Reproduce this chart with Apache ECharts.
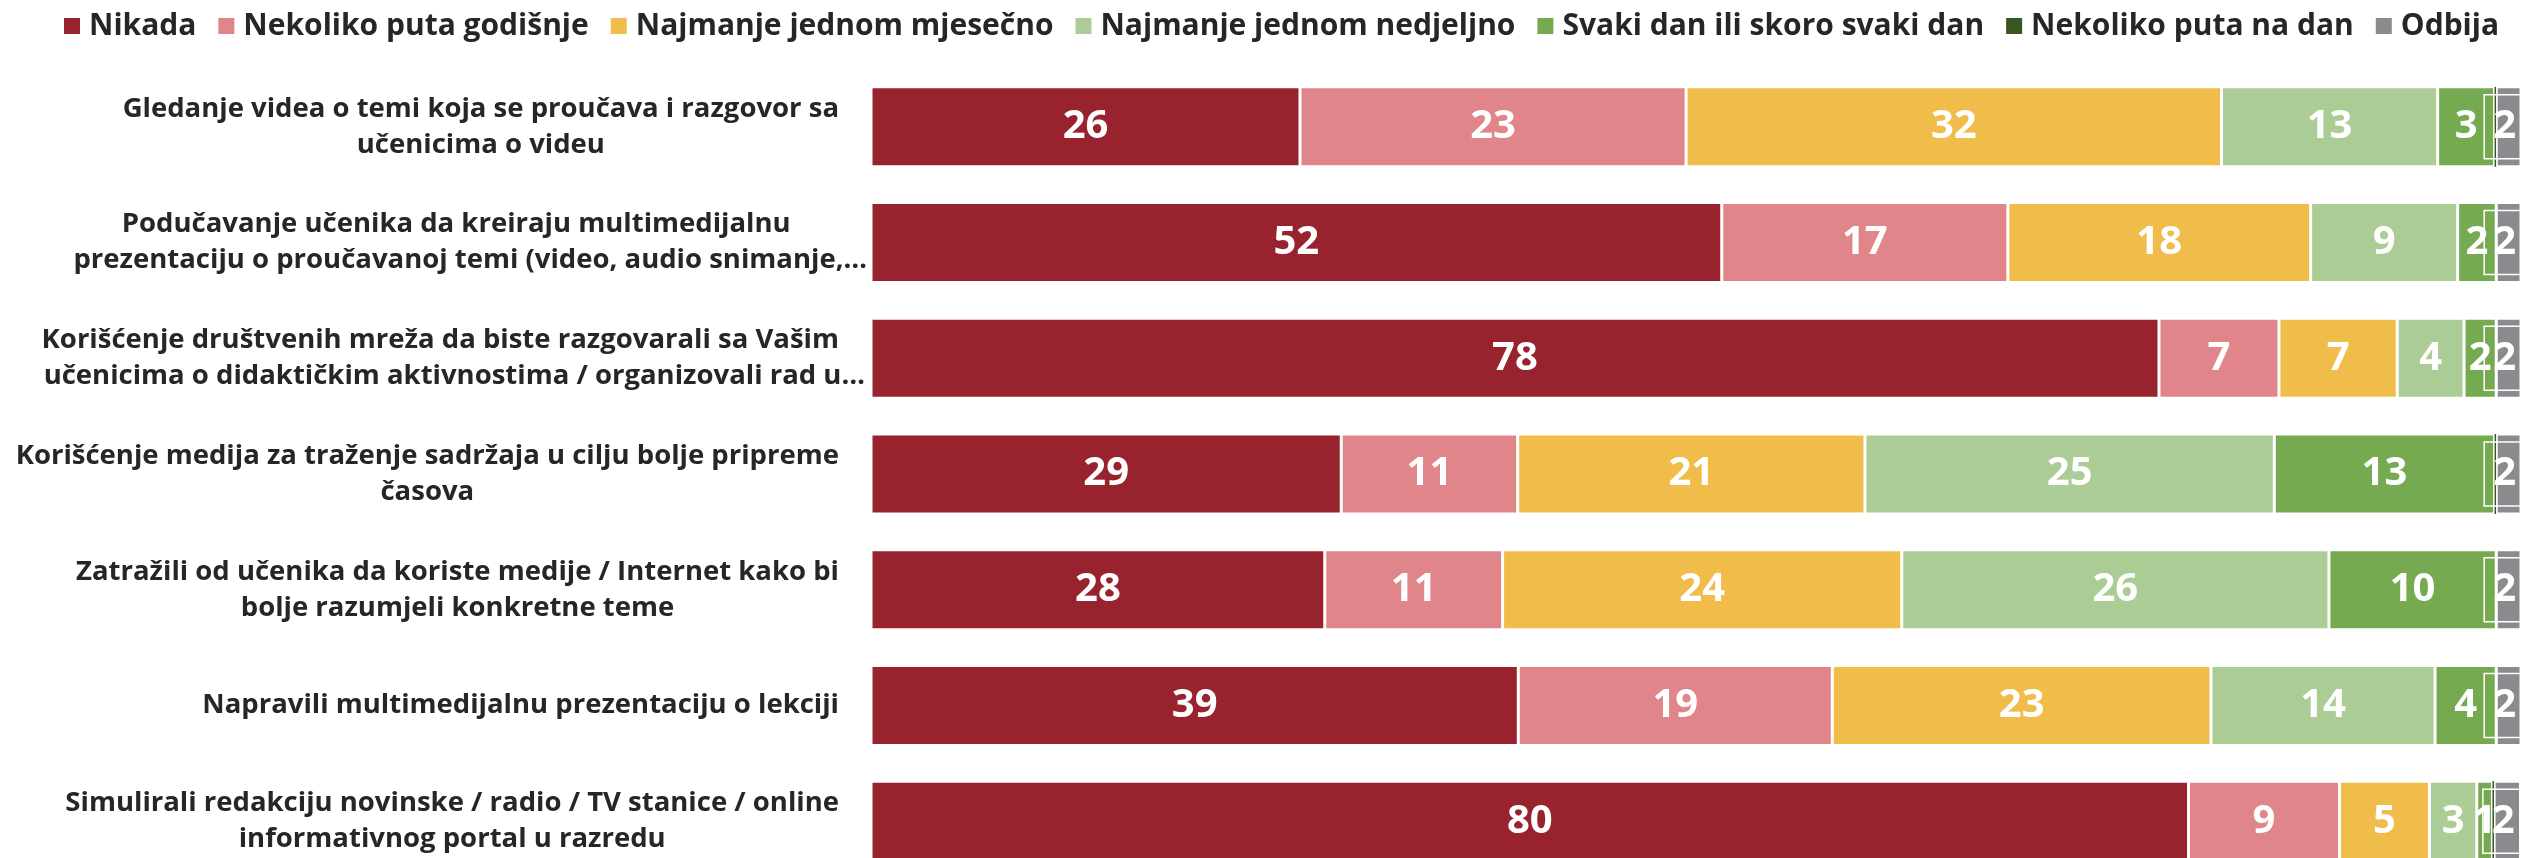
<!DOCTYPE html>
<html>
<head>
<meta charset="utf-8">
<script src="https://cdn.jsdelivr.net/npm/echarts@6/dist/echarts.min.js"></script>
<style>
  html, body { margin: 0; padding: 0; background: #ffffff; }
  #chart { width: 2521px; height: 858px; }
</style>
</head>
<body>
<div id="chart"></div>
<script>
// ---- Data (percentages) ----
const categories = [
  "Gledanje videa o temi koja se proučava i razgovor sa\nučenicima o videu",
  "Podučavanje učenika da kreiraju multimedijalnu\nprezentaciju o proučavanoj temi (video, audio snimanje,…",
  "Korišćenje društvenih mreža da biste razgovarali sa Vašim\nučenicima o didaktičkim aktivnostima / organizovali rad u…",
  "Korišćenje medija za traženje sadržaja u cilju bolje pripreme\nčasova",
  "Zatražili od učenika da koriste medije / Internet kako bi\nbolje razumjeli konkretne teme",
  "Napravili multimedijalnu prezentaciju o lekciji",
  "Simulirali redakciju novinske / radio / TV stanice / online\ninformativnog portal u razredu"
];
const seriesNames = [
  "Nikada",
  "Nekoliko puta godišnje",
  "Najmanje jednom mjesečno",
  "Najmanje jednom nedjeljno",
  "Svaki dan ili skoro svaki dan",
  "Nekoliko puta na dan",
  "Odbija"
];
const nikada      = [26.0, 51.56, 78.06, 28.5, 27.5, 39.23, 79.85];
const nekolikoGod = [23.4, 17.34, 7.27, 10.69, 10.78, 19.03, 9.15];
const mjesecno    = [32.45, 18.35, 7.17, 21.05, 24.19, 22.95, 5.45];
const nedjeljno   = [13.1, 8.91, 4.05, 24.81, 25.89, 13.58, 2.87];
const svakiDan    = [3.45, 2.34, 1.95, 13.35, 10.14, 3.71, 0.95];
const nekolikoDan = [0.1, 0, 0, 0.1, 0, 0, 0.1];
const odbija      = [1.5, 1.5, 1.5, 1.5, 1.5, 1.5, 1.6];

const colors = ["#98232E", "#E0858A", "#F0BD4B", "#ACCC96", "#75AA50", "#375623", "#898B8E"];
const allValues = [nikada, nekolikoGod, mjesecno, nedjeljno, svakiDan, nekolikoDan, odbija];

const FONT = "Open Sans";
const CAT_SIZE = 27.5;

const chart = echarts.init(document.getElementById('chart'), null, { renderer: 'canvas' });

const series = allValues.map((vals, i) => {
  const s = {
    name: seriesNames[i],
    type: 'bar',
    stack: 'total',
    barWidth: 80,
    data: vals,
    itemStyle: { color: colors[i], borderColor: '#ffffff', borderWidth: i === 5 ? 0 : 1.5 },
    label: {
      show: true,
      position: 'inside',
      color: '#ffffff',
      fontFamily: FONT,
      fontWeight: 'bold',
      fontSize: 40,
      formatter: p => (p.value >= 0.5 ? String(Math.round(p.value)) : '')
    },
    emphasis: { disabled: true }
  };
  if (i === 6) {
    s.label.borderColor = '#ffffff';
    s.label.borderWidth = 1.5;
    s.label.padding = [12, 9, 12, 9];
    s.label.offset = [-4, 0];
  }
  return s;
});

const catRich = {
  color: '#262626',
  fontFamily: FONT,
  fontWeight: 'bold',
  fontSize: CAT_SIZE,
  lineHeight: 36,
  align: 'center'
};

const option = {
  animation: false,
  backgroundColor: '#ffffff',
  legend: {
    data: seriesNames,
    left: 64,
    top: 11,
    padding: 0,
    icon: 'rect',
    itemWidth: 16,
    itemHeight: 16,
    itemGap: 22,
    itemStyle: { borderWidth: 0 },
    textStyle: {
      fontFamily: FONT,
      fontWeight: 'bold',
      fontSize: 30,
      color: '#262626',
      padding: [0, 0, 0, 4]
    }
  },
  grid: {
    left: 871,
    right: 0,
    top: 69,
    height: 810,
    containLabel: false,
    outerBoundsMode: 'none'
  },
  xAxis: {
    type: 'value',
    min: 0,
    max: 100,
    show: false
  },
  yAxis: {
    type: 'category',
    data: categories,
    inverse: true,
    axisLine: { show: false },
    axisTick: { show: false },
    splitLine: { show: false },
    axisLabel: {
      margin: 4,
      align: 'right',
      color: '#262626',
      fontFamily: FONT,
      fontWeight: 'bold',
      fontSize: CAT_SIZE,
      lineHeight: 36,
      formatter: v => v.split('\n')
        .map(l => (l.endsWith('…') ? '{e|' : '{c|') + l + '}')
        .join('\n'),
      rich: {
        c: Object.assign({}, catRich, { padding: [0, 28, 0, 0] }),
        e: Object.assign({}, catRich, { padding: [0, 0, 0, 0] })
      }
    }
  },
  series: series
};

chart.setOption(option);
</script>
</body>
</html>
